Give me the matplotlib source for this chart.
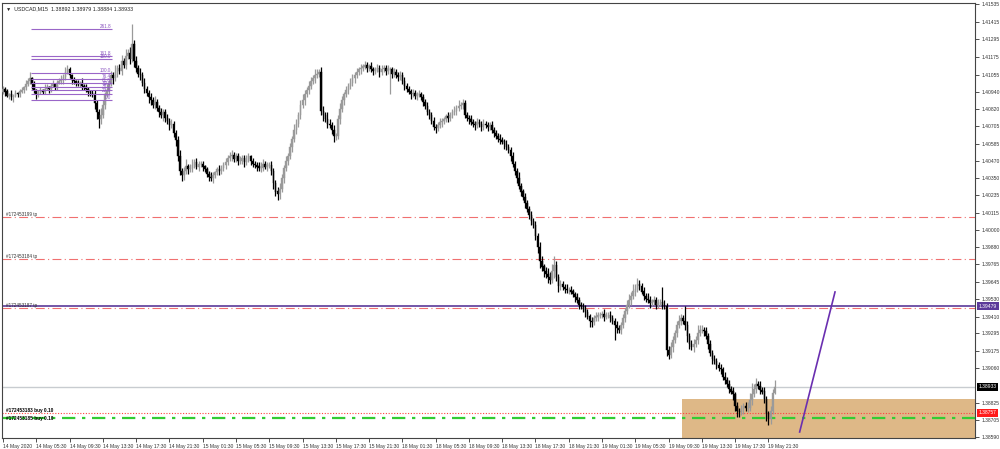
import matplotlib
matplotlib.use("Agg")
import matplotlib.pyplot as plt
import matplotlib.transforms as mtransforms
from matplotlib.patches import Rectangle

plt.rcParams['font.family'] = ['Liberation Sans', 'DejaVu Sans']

# closes in pips above 1.38000 (one value per M15 bar)
closes = [
    296, 294, 291, 292, 290, 291, 293, 292, 294, 295, 297, 299, 301, 303, 299, 295,
    292, 293, 295, 294, 296, 297, 296, 298, 299, 297, 300, 301, 302, 304, 307, 309,
    305, 302, 301, 300, 299, 300, 298, 297, 296, 294, 293, 292, 286, 280, 275, 278,
    285, 292, 295, 300, 305, 303, 307, 310, 308, 315, 312, 318, 320, 316, 326, 315,
    310, 306, 305, 300, 296, 293, 290, 288, 285, 287, 283, 280, 278, 280, 276, 274,
    271, 272, 266, 261, 250, 240, 237, 240, 243, 241, 242, 244, 246, 243, 245, 245,
    243, 241, 238, 236, 235, 237, 239, 241, 240, 242, 244, 246, 249, 250, 251, 248,
    250, 247, 247, 249, 246, 248, 250, 247, 245, 244, 243, 242, 242, 245, 243, 244,
    244, 240, 232, 226, 224, 228, 235, 242, 247, 250, 256, 262, 268, 272, 278, 285,
    288, 292, 295, 298, 301, 303, 305, 306, 307, 281, 278, 275, 272, 271, 268, 264,
    264, 275, 282, 288, 292, 295, 298, 300, 303, 305, 307, 309, 310, 311, 312, 310,
    311, 309, 308, 309, 310, 307, 309, 310, 308, 309, 309, 306, 307, 305, 304, 305,
    301, 298, 296, 294, 292, 293, 291, 292, 292, 290, 287, 284, 280, 278, 274, 270,
    269, 271, 273, 274, 275, 277, 276, 278, 280, 281, 283, 284, 285, 286, 278, 276,
    275, 273, 272, 271, 273, 272, 270, 272, 271, 270, 271, 268, 266, 264, 262, 261,
    260, 258, 256, 254, 250, 245, 240, 235, 230, 226, 222, 218, 214, 210, 206, 203,
    196, 188, 179, 175, 172, 170, 168, 166, 172, 176, 168, 162, 163, 161, 160, 159,
    159, 158, 156, 154, 152, 149, 148, 146, 144, 141, 138, 137, 140, 141, 142, 142,
    143, 141, 142, 142, 140, 138, 135, 133, 132, 135, 140, 145, 149, 152, 155, 158,
    160, 163, 162, 158, 155, 153, 152, 150, 151, 152, 149, 150, 151, 149, 148, 118,
    115, 120, 125, 130, 135, 138, 140, 138, 135, 128, 122, 120, 122, 125, 130, 132,
    132, 131, 128, 122, 116, 112, 111, 108, 106, 105, 100, 98, 95, 92, 90, 88,
    80, 77, 76, 78, 80, 79, 79, 84, 88, 92, 95, 94, 91, 90, 85, 75,
    71, 77, 88.9, 93.3,
]
# upper / lower wick lengths in pips
up_wick = [
    2, 1, 2, 1, 3, 1, 2, 1, 2, 2, 1, 3, 2, 4, 1, 2,
    1, 2, 2, 1, 3, 2, 1, 2, 3, 1, 2, 2, 3, 2, 4, 3,
    2, 1, 2, 1, 2, 1, 3, 1, 2, 1, 1, 2, 3, 2, 2, 5,
    3, 2, 4, 2, 3, 2, 5, 2, 3, 4, 2, 5, 3, 4, 14, 3,
    3, 2, 4, 2, 3, 2, 2, 3, 2, 4, 2, 2, 3, 2, 2, 3,
    2, 3, 2, 2, 3, 4, 2, 3, 5, 2, 3, 4, 2, 3, 2, 2,
    2, 1, 2, 2, 3, 2, 1, 2, 3, 2, 2, 3, 2, 3, 3, 2,
    2, 2, 3, 2, 2, 3, 2, 1, 2, 2, 2, 3, 4, 3, 2, 2,
    2, 3, 2, 2, 3, 4, 3, 2, 3, 2, 3, 2, 4, 3, 2, 3,
    4, 3, 2, 3, 3, 2, 4, 3, 2, 4, 3, 2, 5, 3, 2, 3,
    2, 3, 4, 3, 2, 3, 2, 3, 3, 2, 3, 2, 3, 2, 3, 2,
    2, 3, 2, 2, 3, 2, 3, 2, 2, 3, 2, 2, 3, 2, 2, 3,
    2, 3, 2, 2, 2, 3, 2, 2, 3, 2, 2, 2, 3, 2, 2, 3,
    2, 2, 3, 2, 2, 2, 3, 2, 2, 3, 2, 4, 2, 3, 2, 2,
    2, 3, 2, 2, 3, 2, 2, 3, 2, 2, 2, 3, 2, 2, 2, 3,
    2, 2, 3, 2, 2, 3, 2, 2, 4, 2, 2, 3, 2, 2, 3, 2,
    3, 2, 4, 3, 2, 3, 4, 3, 5, 6, 3, 2, 3, 2, 2, 3,
    2, 3, 2, 2, 3, 2, 2, 2, 3, 2, 2, 3, 2, 3, 2, 2,
    2, 3, 2, 2, 3, 2, 2, 3, 2, 2, 3, 2, 3, 4, 3, 5,
    3, 4, 3, 2, 3, 2, 4, 3, 2, 3, 2, 3, 2, 10, 3, 2,
    3, 4, 3, 2, 3, 4, 3, 2, 10, 3, 2, 3, 4, 3, 5, 3,
    3, 2, 3, 2, 3, 2, 3, 2, 2, 3, 2, 3, 2, 3, 2, 3,
    2, 3, 2, 3, 2, 3, 4, 5, 8, 3, 4, 2, 3, 2, 3, 2,
    2, 3, 3, 4.6,
]
dn_wick = [
    2, 3, 1, 2, 2, 3, 1, 2, 2, 1, 2, 2, 1, 2, 3, 2,
    3, 2, 1, 2, 2, 1, 3, 2, 1, 2, 2, 1, 2, 3, 2, 1,
    2, 3, 2, 2, 1, 2, 3, 2, 2, 3, 2, 2, 4, 5, 6, 3,
    2, 3, 2, 3, 2, 4, 2, 3, 2, 3, 2, 3, 2, 3, 2, 4,
    3, 2, 3, 2, 3, 2, 4, 3, 2, 3, 2, 3, 2, 4, 3, 2,
    3, 2, 3, 4, 3, 3, 4, 3, 2, 3, 2, 3, 2, 2, 3, 2,
    3, 2, 2, 3, 2, 3, 2, 2, 3, 2, 2, 3, 2, 2, 3, 2,
    2, 3, 2, 2, 3, 2, 2, 3, 2, 2, 3, 2, 3, 2, 2, 3,
    2, 3, 4, 3, 4, 3, 2, 3, 2, 3, 2, 3, 2, 3, 2, 3,
    2, 3, 2, 3, 2, 2, 3, 2, 2, 3, 4, 2, 3, 2, 3, 4,
    3, 2, 3, 2, 3, 2, 3, 2, 2, 3, 2, 2, 3, 2, 2, 3,
    2, 2, 3, 2, 2, 3, 2, 2, 3, 2, 17, 3, 2, 2, 3, 2,
    2, 3, 2, 2, 3, 2, 2, 3, 2, 2, 3, 2, 2, 3, 2, 2,
    3, 2, 2, 3, 2, 2, 3, 2, 2, 2, 3, 2, 2, 3, 2, 2,
    3, 2, 2, 3, 2, 2, 3, 2, 2, 3, 2, 2, 3, 2, 2, 3,
    2, 3, 2, 2, 3, 2, 3, 3, 2, 3, 2, 3, 2, 3, 3, 2,
    3, 4, 5, 3, 4, 3, 4, 3, 2, 5, 3, 4, 3, 2, 3, 2,
    3, 2, 2, 3, 2, 3, 2, 2, 3, 2, 4, 3, 2, 2, 3, 2,
    2, 3, 2, 2, 3, 2, 10, 3, 2, 3, 2, 3, 2, 2, 3, 2,
    3, 2, 3, 2, 3, 2, 2, 3, 2, 2, 3, 2, 2, 3, 2, 4,
    3, 2, 3, 2, 3, 2, 3, 2, 3, 4, 3, 2, 3, 2, 3, 2,
    2, 3, 2, 3, 2, 3, 2, 3, 2, 3, 2, 3, 2, 3, 2, 4,
    3, 4, 3, 2, 3, 2, 3, 2, 3, 2, 3, 2, 3, 2, 3, 5,
    4, 3, 2, 0.5,
]
first_open = 294

x_labels = ["14 May 2020", "14 May 05:30", "14 May 09:30", "14 May 13:30", "14 May 17:30",
            "14 May 21:30", "15 May 01:30", "15 May 05:30", "15 May 09:30", "15 May 13:30",
            "15 May 17:30", "15 May 21:30", "18 May 01:30", "18 May 05:30", "18 May 09:30",
            "18 May 13:30", "18 May 17:30", "18 May 21:30", "19 May 01:30", "19 May 05:30",
            "19 May 09:30", "19 May 13:30", "19 May 17:30", "19 May 21:30"]
y_ticks = [1.41535, 1.41415, 1.41295, 1.41175, 1.41055, 1.40940, 1.40820, 1.40705, 1.40585,
           1.40470, 1.40350, 1.40235, 1.40115, 1.40000, 1.39880, 1.39765, 1.39645, 1.39530,
           1.39410, 1.39295, 1.39175, 1.39060, 1.38825, 1.38705, 1.38590]

fib_levels = [0.0, 23.6, 38.2, 50.0, 61.8, 76.4, 100.0, 150.0, 161.8, 261.8]
fib_low, fib_high = 1.40882, 1.41066
fib_x = (13.5, 52.5)

tp_lines = [("#172453199 tp", 1.40087), ("#172453184 tp", 1.39801), ("#172453187 tp", 1.39468)]
level_line = 1.39479
bid = 1.38933
entry_red = 1.38757
buy_line = 1.38720
zone_top, zone_bottom, zone_left = 1.38849, 1.38560, 326.5
arrow_x, arrow_y = (383, 400), (1.38625, 1.39577)

def px(p):
    return 1.38 + p / 10000.0

fig = plt.figure(figsize=(10, 4.49), dpi=100)
ax = fig.add_axes([0.002, 11 / 449, 0.973, 435 / 449])

# candles
o = first_open
for i, c in enumerate(closes):
    hi = max(o, c) + up_wick[i]
    lo = min(o, c) - dn_wick[i]
    col = "#9a9a9a" if c >= o else "black"
    ax.vlines(i, px(lo), px(hi), color=col, lw=0.9, zorder=3)
    ax.bar(i, px(max(o, c)) - px(min(o, c)) + 0.000004, bottom=px(min(o, c)),
           width=0.75, color=col, edgecolor=col, lw=0.3, zorder=3)
    o = c

# zone rectangle
ax.add_patch(Rectangle((zone_left, zone_bottom), 200, zone_top - zone_bottom,
                       facecolor="#DEB887", edgecolor="none", zorder=1))

# fibonacci
for lv in fib_levels:
    yv = fib_low + (fib_high - fib_low) * lv / 100.0
    ax.hlines(yv, fib_x[0], fib_x[1], color="#9a66c8", lw=0.8, zorder=4)
    ax.text(fib_x[1] - 0.5, yv + 0.00002, f"{lv:.1f}", color="#8a55c0", fontsize=3.3,
            ha="right", va="bottom", zorder=5)

# horizontal lines
for name, yv in tp_lines:
    ax.axhline(yv, color="#f07070", lw=0.8, ls=(0, (8, 3, 1, 3)), zorder=2)
    ax.text(1.5, yv + 0.00003, name, fontsize=3.3, color="#333333", va="bottom", zorder=5)
ax.axhline(level_line, color="#5b3a9a", lw=1.2, zorder=2)
ax.axhline(bid, color="#c8ccd0", lw=1.0, zorder=2)
ax.axhline(entry_red, color="#ff4040", lw=0.8, ls=(0, (1, 1.5)), zorder=2)
ax.axhline(buy_line, color="#33cc33", lw=1.6, ls=(0, (6, 3, 1.5, 3)), zorder=2)
ax.text(1.5, entry_red - 0.00001, "#172453183 buy 0.10", fontsize=3.4, color="black",
        fontweight="bold", va="bottom", zorder=5)
ax.text(1.5, buy_line, "#172453185 buy 0.10", fontsize=3.4, color="black",
        fontweight="bold", va="center", zorder=5)

# diagonal line
ax.plot(arrow_x, arrow_y, color="#6a2fb0", lw=1.2, zorder=4)

# axes
ax.set_xlim(-0.48, 467.3)
ax.set_ylim(1.385841, 1.415418)
ax.yaxis.tick_right()
ax.set_yticks(y_ticks)
ax.set_yticklabels([f"{v:.5f}" for v in y_ticks])
ax.set_xticks(range(0, 16 * len(x_labels), 16))
ax.set_xticklabels(x_labels, ha="left")
ax.tick_params(axis="y", labelsize=3.6, length=3, width=0.6, pad=2, colors="#333333")
ax.tick_params(axis="x", labelsize=3.6, length=3, width=0.6, pad=1.5, colors="#333333")
for s in ax.spines.values():
    s.set_color("#444444")
    s.set_linewidth(0.8)

# price tags on the axis
trans = mtransforms.blended_transform_factory(ax.transAxes, ax.transData)
for yv, bg in [(level_line, "#5b3a9a"), (bid, "black"), (entry_red, "#ff1a1a")]:
    ax.text(1.004, yv, f"{yv:.5f}", transform=trans, fontsize=3.6, color="white",
            va="center", ha="left", zorder=10, clip_on=False,
            bbox=dict(boxstyle="square,pad=0.3", facecolor=bg, edgecolor="none"))

# title
ax.text(0.004, 0.993, "▼  USDCAD,M15  1.38892 1.38979 1.38884 1.38933", transform=ax.transAxes,
        fontsize=3.8, color="#222222", va="top", ha="left")

fig.savefig("out.png", dpi=100)
